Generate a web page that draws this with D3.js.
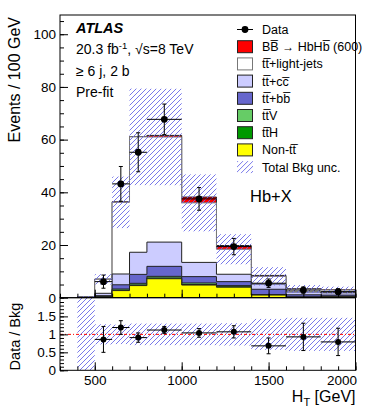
<!DOCTYPE html>
<html>
<head>
<meta charset="utf-8">
<script src="https://cdn.jsdelivr.net/npm/d3@7"></script>
<style>
  body { margin: 0; background: #fff; }
  svg text { font-family: "Liberation Sans", Arial, Helvetica, sans-serif; fill: #000; }
</style>
</head>
<body>
<svg id="chart" width="374" height="414"></svg>
<script>
// bins in GeV, values in events / 100 GeV
const binEdges = [400, 500, 600, 700, 800, 1000, 1200, 1400, 1600, 1800, 2000]
const nonTT   = [0.05, 0.3, 2.7, 4.6, 7.2, 4.8, 4.0, 1.0, 0.2, 0.4]
const ttH     = [0, 0.02, 0.15, 0.25, 0.3, 0.2, 0.15, 0.05, 0.02, 0.02]
const ttV     = [0, 0.05, 0.45, 0.6, 0.6, 0.6, 0.45, 0.15, 0.08, 0.06]
const ttbb    = [0.05, 0.4, 1.6, 3.4, 3.8, 2.4, 1.5, 2.0, 0.8, 0.5]
const ttcc    = [0.05, 0.9, 4.1, 8.4, 9.2, 5.4, 2.8, 2.0, 1.1, 0.9]
const ttLight = [0.1, 5.3, 27.2, 43.8, 39.9, 22.6, 9.5, 2.9, 1.1, 1.0]
const signal  = [0, 0.1, 0.2, 0.1, 0.6, 2.2, 1.4, 0.35, 0.15, 0.1]
const bkgRelUnc = [1.5, 0.28, 0.27, 0.30, 0.30, 0.30, 0.31, 0.43, 0.46, 0.46]

const dataValues = [0, 6.1, 43.2, 55.2, 67.7, 37.5, 19.4, 5.5, 2.9, 2.3]
const dataErrors = [0, 2.5, 6.6, 7.4, 5.8, 4.3, 3.1, 1.6, 1.2, 1.1]
const ratioValues = [0, 0.86, 1.19, 0.91, 1.12, 1.04, 1.07, 0.68, 0.93, 0.79]
const ratioErrors = [0, 0.36, 0.19, 0.13, 0.10, 0.12, 0.17, 0.22, 0.38, 0.38]

const xTicks = [500, 1000, 1500, 2000]
const yTicks = [0, 20, 40, 60, 80, 100]
const ratioTicks = [0, 0.5, 1, 1.5]

const stackKeys = ['nonTT', 'ttH', 'ttV', 'ttbb', 'ttcc', 'ttLight', 'signal']
const stackColors = {
  nonTT: '#ffff00', ttH: '#009900', ttV: '#66cc66', ttbb: '#6666cc',
  ttcc: '#ccccff', ttLight: '#ffffff', signal: '#ff0000'
}
const legendItems = [
  { label: 'Data', type: 'data' },
  { label: 'BB\u0305 \u2192 HbHb\u0305 (600)', key: 'signal' },
  { label: 'tt\u0305+light-jets', key: 'ttLight' },
  { label: 'tt\u0305+cc\u0305', key: 'ttcc' },
  { label: 'tt\u0305+bb\u0305', key: 'ttbb' },
  { label: 'tt\u0305V', key: 'ttV' },
  { label: 'tt\u0305H', key: 'ttH' },
  { label: 'Non-tt\u0305', key: 'nonTT' },
  { label: 'Total Bkg unc.', type: 'hatch' }
]

const svg = d3.select('#chart')
const frame = { left: 60, right: 355.5, top: 15, mid: 297.7, bottom: 370.3 }

const x = d3.scaleLinear().domain([300, 2000]).range([frame.left, frame.right])
const y = d3.scaleLinear().domain([0, 107.3]).range([frame.mid, frame.top])
const yr = d3.scaleLinear().domain([0, 2.02]).range([frame.bottom, frame.mid])

const defs = svg.append('defs')
const hatch = defs.append('pattern')
  .attr('id', 'hatch')
  .attr('patternUnits', 'userSpaceOnUse')
  .attr('width', 5).attr('height', 5)
hatch.append('path')
  .attr('d', 'M-1,1 l2,-2 M0,5 l5,-5 M4,6 l2,-2')
  .attr('stroke', '#6a6ae8')
  .attr('stroke-width', 0.9)
defs.append('clipPath').attr('id', 'clipMain').append('rect')
  .attr('x', frame.left).attr('y', frame.top)
  .attr('width', frame.right - frame.left).attr('height', frame.mid - frame.top)
defs.append('clipPath').attr('id', 'clipRatio').append('rect')
  .attr('x', frame.left).attr('y', frame.mid)
  .attr('width', frame.right - frame.left).attr('height', frame.bottom - frame.mid)

// table for d3.stack
const bins = binEdges.slice(0, -1).map((lo, i) => ({
  lo, hi: binEdges[i + 1],
  nonTT: nonTT[i], ttH: ttH[i], ttV: ttV[i], ttbb: ttbb[i],
  ttcc: ttcc[i], ttLight: ttLight[i], signal: signal[i],
  data: dataValues[i], dataErr: dataErrors[i],
  ratio: ratioValues[i], ratioErr: ratioErrors[i], rel: bkgRelUnc[i]
}))
const series = d3.stack().keys(stackKeys)(bins)

const stepArea = d3.area()
  .x(d => x(d.x))
  .y0(y(0))
  .y1(d => y(d.v))
  .curve(d3.curveStepAfter)

const main = svg.append('g').attr('clip-path', 'url(#clipMain)')

// draw cumulative histograms from the top of the stack down
series.slice().reverse().forEach(s => {
  const pts = s.map((d, i) => ({ x: bins[i].lo, v: d[1] }))
  pts.push({ x: bins[bins.length - 1].hi, v: s[s.length - 1][1] })
  main.append('path')
    .attr('d', stepArea(pts))
    .attr('fill', stackColors[s.key])
    .attr('stroke', s.key === 'ttLight' ? '#777' : '#222')
    .attr('stroke-width', 1)
})

const bkgTotal = bins.map((b, i) => series[5][i][1])

main.append('g')
  .selectAll('rect')
  .data(bins)
  .enter()
  .append('rect')
  .attr('x', d => x(d.lo))
  .attr('width', d => x(d.hi) - x(d.lo))
  .attr('y', (d, i) => y(bkgTotal[i] * (1 + d.rel)))
  .attr('height', (d, i) => y(Math.max(0, bkgTotal[i] * (1 - d.rel))) - y(bkgTotal[i] * (1 + d.rel)))
  .attr('fill', 'url(#hatch)')

function drawPoints(g, rows, yScale, valKey, errKey, r) {
  const pts = g.append('g')
    .selectAll('g')
    .data(rows.filter(d => d[valKey] > 0))
    .enter()
    .append('g')
  pts.append('line')
    .attr('x1', d => x(d.lo)).attr('x2', d => x(d.hi))
    .attr('y1', d => yScale(d[valKey])).attr('y2', d => yScale(d[valKey]))
    .attr('stroke', '#000').attr('stroke-width', 1)
  pts.append('line')
    .attr('x1', d => x((d.lo + d.hi) / 2)).attr('x2', d => x((d.lo + d.hi) / 2))
    .attr('y1', d => yScale(d[valKey] - d[errKey])).attr('y2', d => yScale(d[valKey] + d[errKey]))
    .attr('stroke', '#000').attr('stroke-width', 1)
  ;[1, -1].forEach(sign => {
    pts.append('line')
      .attr('x1', d => x((d.lo + d.hi) / 2) - 2).attr('x2', d => x((d.lo + d.hi) / 2) + 2)
      .attr('y1', d => yScale(d[valKey] + sign * d[errKey]))
      .attr('y2', d => yScale(d[valKey] + sign * d[errKey]))
      .attr('stroke', '#000').attr('stroke-width', 1)
  })
  pts.append('circle')
    .attr('cx', d => x((d.lo + d.hi) / 2))
    .attr('cy', d => yScale(d[valKey]))
    .attr('r', r)
    .attr('fill', '#000')
}

drawPoints(main, bins, y, 'data', 'dataErr', 3.4)

// ratio panel
const ratio = svg.append('g').attr('clip-path', 'url(#clipRatio)')
ratio.append('g')
  .selectAll('rect')
  .data(bins)
  .enter()
  .append('rect')
  .attr('x', d => x(d.lo))
  .attr('width', d => x(d.hi) - x(d.lo))
  .attr('y', d => yr(1 + d.rel))
  .attr('height', d => yr(Math.max(0, 1 - d.rel)) - yr(1 + d.rel))
  .attr('fill', 'url(#hatch)')
ratio.append('line')
  .attr('x1', frame.left).attr('x2', frame.right)
  .attr('y1', yr(1)).attr('y2', yr(1))
  .attr('stroke', '#ff0000').attr('stroke-width', 1)
  .attr('stroke-dasharray', '3,2,1,2')
drawPoints(ratio, bins, yr, 'ratio', 'ratioErr', 3)

// axes
function styleAxis(g) {
  g.select('.domain').remove()
  g.selectAll('line').attr('stroke', '#000')
  g.selectAll('text').style('font-size', '13.5px').attr('fill', '#000')
}

svg.append('g')
  .attr('transform', `translate(${frame.left},0)`)
  .call(d3.axisLeft(y).tickValues(yTicks).tickSizeInner(-8).tickSizeOuter(0).tickPadding(4))
  .call(styleAxis)
svg.append('g')
  .attr('transform', `translate(${frame.left},0)`)
  .call(d3.axisLeft(y).tickValues(d3.range(0, 106, 5)).tickSizeInner(-4).tickSizeOuter(0).tickFormat(''))
  .call(styleAxis)

svg.append('g')
  .attr('transform', `translate(0,${frame.mid})`)
  .call(d3.axisBottom(x).tickValues(xTicks).tickSizeInner(-8).tickSizeOuter(0).tickFormat(''))
  .call(styleAxis)
svg.append('g')
  .attr('transform', `translate(0,${frame.mid})`)
  .call(d3.axisBottom(x).tickValues(d3.range(300, 2001, 100)).tickSizeInner(-4).tickSizeOuter(0).tickFormat(''))
  .call(styleAxis)

svg.append('g')
  .attr('transform', `translate(${frame.left},0)`)
  .call(d3.axisLeft(yr).tickValues(ratioTicks).tickSizeInner(-8).tickSizeOuter(0).tickPadding(4).tickFormat(d3.format('')))
  .call(styleAxis)
svg.append('g')
  .attr('transform', `translate(${frame.left},0)`)
  .call(d3.axisLeft(yr).tickValues(d3.range(0, 2.0, 0.1)).tickSizeInner(-4).tickSizeOuter(0).tickFormat(''))
  .call(styleAxis)

const xAxisRatio = svg.append('g')
  .attr('transform', `translate(0,${frame.bottom})`)
  .call(d3.axisBottom(x).tickValues(xTicks).tickSizeInner(-8).tickSizeOuter(0).tickPadding(5).tickFormat(d3.format('d')))
  .call(styleAxis)
xAxisRatio.selectAll('.tick')
  .filter(d => d === 2000)
  .select('text')
  .attr('text-anchor', 'end')
  .attr('x', 1)
svg.append('g')
  .attr('transform', `translate(0,${frame.bottom})`)
  .call(d3.axisBottom(x).tickValues(d3.range(300, 2001, 100)).tickSizeInner(-4).tickSizeOuter(0).tickFormat(''))
  .call(styleAxis)

// frames
svg.append('rect')
  .attr('x', frame.left).attr('y', frame.top)
  .attr('width', frame.right - frame.left).attr('height', frame.mid - frame.top)
  .attr('fill', 'none').attr('stroke', '#000').attr('stroke-width', 1)
svg.append('rect')
  .attr('x', frame.left).attr('y', frame.mid)
  .attr('width', frame.right - frame.left).attr('height', frame.bottom - frame.mid)
  .attr('fill', 'none').attr('stroke', '#000').attr('stroke-width', 1)

// axis titles
svg.append('text')
  .text('Events / 100 GeV')
  .attr('transform', `translate(20, ${frame.top + 2}) rotate(-90)`)
  .attr('text-anchor', 'end')
  .style('font-size', '16px')
svg.append('text')
  .text('Data / Bkg')
  .attr('transform', `translate(20, ${frame.mid + 5}) rotate(-90)`)
  .attr('text-anchor', 'end')
  .style('font-size', '14.5px')
const xTitle = svg.append('text')
  .attr('x', frame.right)
  .attr('y', 402)
  .attr('text-anchor', 'end')
  .style('font-size', '16px')
xTitle.append('tspan').text('H')
xTitle.append('tspan').text('T').attr('dy', 4).style('font-size', '11px')
xTitle.append('tspan').text(' [GeV]').attr('dy', -4)

// labels
svg.append('text')
  .text('ATLAS')
  .attr('x', 76).attr('y', 33)
  .style('font-size', '14.5px')
  .style('font-weight', 'bold')
  .style('font-style', 'italic')
const lumi = svg.append('text')
  .attr('x', 76).attr('y', 54)
  .style('font-size', '14px')
lumi.append('tspan').text('20.3 fb')
lumi.append('tspan').text('-1').attr('dy', -5).style('font-size', '9.5px')
lumi.append('tspan').text(', \u221As=8 TeV').attr('dy', 5)
svg.append('text')
  .text('\u2265 6 j, 2 b')
  .attr('x', 76).attr('y', 76)
  .style('font-size', '14px')
svg.append('text')
  .text('Pre-fit')
  .attr('x', 76).attr('y', 97)
  .style('font-size', '14px')
svg.append('text')
  .text('Hb+X')
  .attr('x', 250).attr('y', 202)
  .style('font-size', '16.5px')

// legend
const legend = svg.append('g')
  .selectAll('g')
  .data(legendItems)
  .enter()
  .append('g')
  .attr('transform', (d, i) => `translate(237, ${29.5 + i * 17.2})`)

legend.each(function (d) {
  const g = d3.select(this)
  if (d.type === 'data') {
    g.append('line').attr('x1', 0).attr('x2', 16).attr('y1', 0).attr('y2', 0)
      .attr('stroke', '#000')
    g.append('line').attr('x1', 8).attr('x2', 8).attr('y1', -3).attr('y2', 3)
      .attr('stroke', '#000')
    g.append('circle').attr('cx', 8).attr('cy', 0).attr('r', 3.4).attr('fill', '#000')
  } else if (d.type === 'hatch') {
    g.append('rect').attr('x', 0).attr('y', -6).attr('width', 16).attr('height', 12)
      .attr('fill', 'url(#hatch)')
  } else {
    g.append('rect').attr('x', 0.5).attr('y', -6).attr('width', 15).attr('height', 12)
      .attr('fill', stackColors[d.key])
      .attr('stroke', d.key === 'ttLight' ? '#777' : '#222')
  }
  const t = g.append('text')
    .attr('x', 25)
    .attr('y', 4.5)
    .style('font-size', '12.5px')
  d.label.split('\u2192').forEach((part, k) => {
    if (k > 0) t.append('tspan').text('\u2192').style('font-size', '12px')
    t.append('tspan').text(part)
  })
})
</script>
</body>
</html>
